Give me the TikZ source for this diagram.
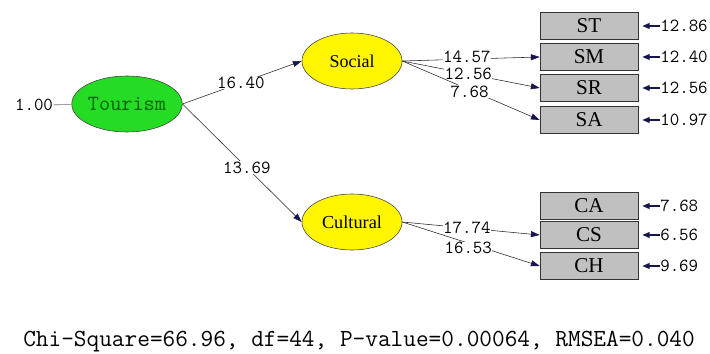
\documentclass[tikz,border=0pt]{standalone}
\usepackage{fontspec}
\setmainfont{Liberation Serif}
\usetikzlibrary{shapes.geometric,arrows.meta}

\definecolor{tourgreen}{RGB}{36,220,36}
\definecolor{tourtext}{RGB}{0,96,0}
\definecolor{latentyellow}{RGB}{255,245,0}
\definecolor{boxgray}{RGB}{192,192,192}
\definecolor{tipblue}{RGB}{22,22,78}

\begin{document}
\begin{tikzpicture}[x=0.025cm, y=-0.025cm,
    latent/.style={ellipse, draw=black!75, minimum width=2.5cm, minimum height=1.4cm, inner sep=0pt},
    indicator/.style={rectangle, draw=black!80, fill=boxgray, minimum width=2.45cm, minimum height=0.67cm, inner sep=0pt, font=\fontsize{15}{15}\selectfont},
    load/.style={draw=black!85, -{Triangle[length=2.2mm, width=1.5mm, color=tipblue]}},
    errload/.style={draw=tipblue, line width=1.1pt, -{Triangle[length=1.8mm, width=1.4mm]}},
    coef/.style={font=\ttfamily\fontsize{13.1}{14}\selectfont, fill=white, inner sep=0.3pt}]

    \useasboundingbox (0,0) rectangle (710,354);

    % Latent variables
    \node[latent, fill=tourgreen, text=tourtext, font=\ttfamily\fontsize{15.4}{16}\selectfont] (tourism) at (127,104) {Tourism};
    \node[latent, fill=latentyellow, font=\fontsize{12.8}{13}\selectfont] (social) at (352,61) {Social};
    \node[latent, fill=latentyellow, font=\fontsize{13}{13}\selectfont] (cultural) at (352,222) {Cultural};

    % Fixed variance of Tourism
    \node[coef] (fix) at (34,105) {1.00};
    \draw[black!55] (fix) -- (tourism);

    % Indicators with their error terms
    \foreach \name/\ypos/\err in {ST/26/12.86, SM/57/12.40, SR/88/12.56, SA/120/10.97,
                                  CA/206/7.68, CS/235/6.56, CH/266/9.69} {
        \node[indicator] (\name) at (589,\ypos) {\name};
        \node[coef, anchor=west, fill=none, inner sep=0pt] (e\name) at (660,\ypos) {\err};
        \draw[errload, shorten >=0.1cm] (e\name.west) -- (\name.east);
    }

    % Second-order loadings
    \draw[load] (tourism.east) -- node[coef, pos=0.49] {16.40} (social.west);
    \draw[load] (tourism.east) -- node[coef, pos=0.54] {13.69} (cultural.west);

    % Social loadings
    \draw[load] (social.east) -- node[coef, pos=0.47, yshift=0.06cm] {14.57} (SM.west);
    \draw[load] (social.east) -- node[coef, pos=0.48] {12.56} (SR.west);
    \draw[load] (social.east) -- node[coef, pos=0.49, yshift=-0.04cm] {7.68} (SA.west);

    % Cultural loadings
    \draw[load] (cultural.east) -- node[coef, pos=0.47] {17.74} (CS.west);
    \draw[load] (cultural.east) -- node[coef, pos=0.48, yshift=-0.12cm] {16.53} (CH.west);

    % Fit statistics
    \node[font=\ttfamily\fontsize{17.5}{18}\selectfont, anchor=west, inner sep=0pt] (fit) at (23,342) {Chi-Square=66.96, df=44, P-value=0.00064, RMSEA=0.040};

\end{tikzpicture}
\end{document}
